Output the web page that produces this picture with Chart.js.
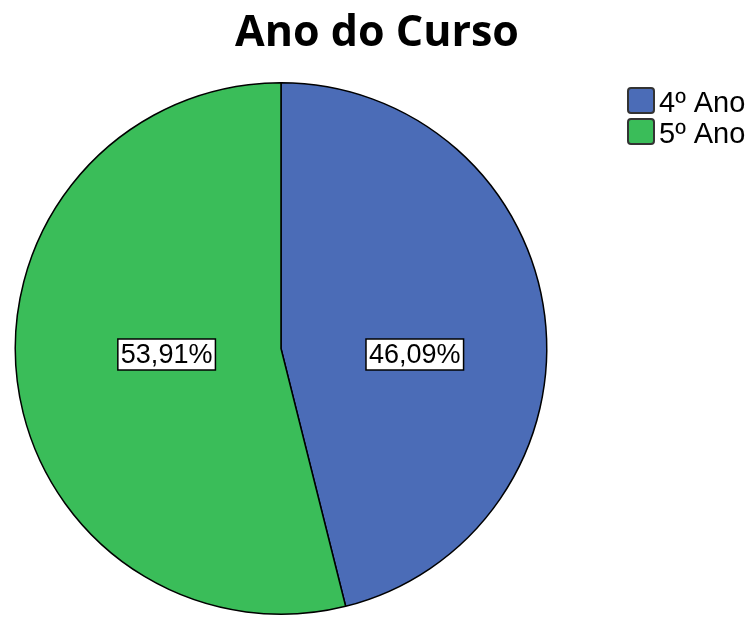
<!DOCTYPE html>
<html>
<head>
<meta charset="utf-8">
<script src="https://cdn.jsdelivr.net/npm/chart.js@4"></script>
<style>
  html, body { margin: 0; padding: 0; background: #fff; }
  #wrap { width: 754px; height: 617px; }
</style>
</head>
<body>
<div id="wrap"><canvas id="grafica"></canvas></div>
<script>
const titulo = 'Ano do Curso';
const categorias = ['4º Ano', '5º Ano'];
const porcentajes = [46.09, 53.91];
const colores = ['#4b6cb7', '#3abd59'];

// título centrado en todo el lienzo (no solo sobre el área del gráfico)
const tituloPlugin = {
    id: 'tituloPlugin',
    afterDraw(chart) {
        const ctx = chart.ctx;
        ctx.save();
        ctx.font = 'bold 43px "Open Sans", sans-serif';
        ctx.textAlign = 'center';
        ctx.textBaseline = 'alphabetic';
        ctx.fillStyle = '#000';
        ctx.fillText(titulo, chart.width / 2, 46);
        ctx.restore();
    }
};

// etiquetas de porcentaje en caja blanca, cerca del centroide del sector
const etiquetas = {
    id: 'etiquetas',
    afterDatasetsDraw(chart) {
        const ctx = chart.ctx;
        const meta = chart.getDatasetMeta(0);
        ctx.save();
        ctx.font = '27px "Liberation Sans", Arial, sans-serif';
        ctx.textAlign = 'center';
        ctx.textBaseline = 'middle';
        meta.data.forEach((arc, i) => {
            const half = (arc.endAngle - arc.startAngle) / 2;
            const mid = arc.startAngle + half;
            const d = 1.11 * 2 * arc.outerRadius * Math.sin(half) / (3 * half);
            const txt = porcentajes[i].toFixed(2).replace('.', ',') + '%';
            const w = ctx.measureText(txt).width + 6;
            const h = 31;
            const x = arc.x + d * Math.cos(mid);
            const y = arc.y + 6;
            ctx.fillStyle = '#fff';
            ctx.fillRect(x - w / 2, y - h / 2, w, h);
            ctx.strokeStyle = '#000';
            ctx.lineWidth = 1.5;
            ctx.strokeRect(x - w / 2, y - h / 2, w, h);
            ctx.fillStyle = '#000';
            ctx.fillText(txt, x, y + 1);
        });
        ctx.restore();
    }
};

// leyenda a la derecha
const leyenda = {
    id: 'leyenda',
    afterDraw(chart) {
        const ctx = chart.ctx;
        ctx.save();
        ctx.font = '29px "Liberation Sans", Arial, sans-serif';
        ctx.textBaseline = 'alphabetic';
        categorias.forEach((cat, i) => {
            const y = 88 + i * 31;
            ctx.fillStyle = colores[i];
            ctx.strokeStyle = '#333';
            ctx.lineWidth = 2;
            ctx.beginPath();
            ctx.roundRect(628, y, 26, 25, 3);
            ctx.fill();
            ctx.stroke();
            ctx.fillStyle = '#000';
            ctx.fillText(cat, 659, y + 24);
        });
        ctx.restore();
    }
};

new Chart(document.getElementById('grafica'), {
    type: 'pie',
    data: {
        labels: categorias,
        datasets: [{
            data: porcentajes,
            backgroundColor: colores,
            borderColor: '#000',
            borderWidth: 1.5,
        }]
    },
    options: {
        responsive: true,
        maintainAspectRatio: false,
        animation: false,
        layout: { padding: { top: 82, bottom: 2, left: 14, right: 206 } },
        plugins: {
            title: { display: false },
            legend: { display: false },
            tooltip: { enabled: false },
        },
    },
    plugins: [etiquetas, leyenda, tituloPlugin],
});
</script>
</body>
</html>
